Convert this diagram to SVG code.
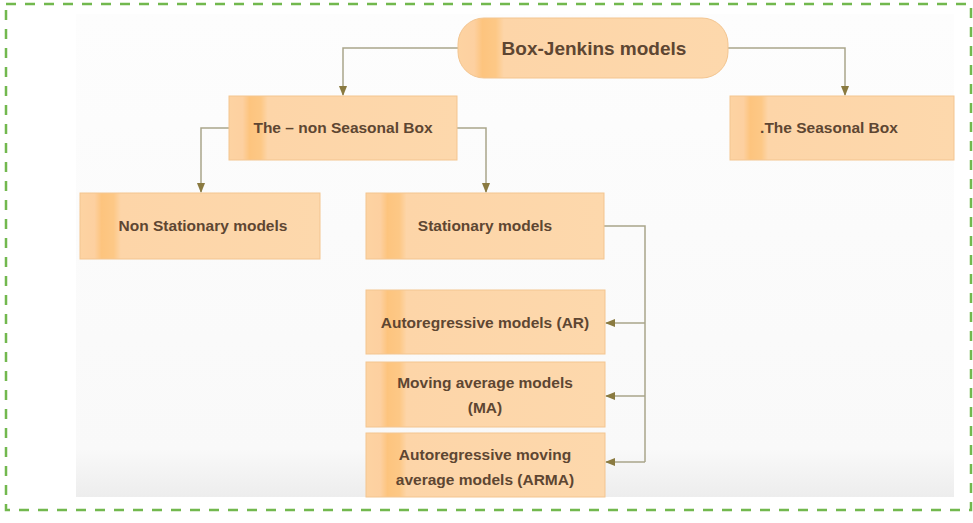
<svg xmlns="http://www.w3.org/2000/svg" width="973" height="523" viewBox="0 0 973 523">
<defs>
<linearGradient id="bg" x1="0" y1="0" x2="0" y2="1">
<stop offset="0" stop-color="#fdfdfd"/>
<stop offset="0.9" stop-color="#f9f9f9"/>
<stop offset="1" stop-color="#ededed"/>
</linearGradient>
<linearGradient id="box" x1="0" y1="0" x2="1" y2="0">
<stop offset="0" stop-color="#fdd3a2"/>
<stop offset="0.06" stop-color="#fdd0a0"/>
<stop offset="0.09" stop-color="#fdc47e"/>
<stop offset="0.14" stop-color="#fdc886"/>
<stop offset="0.17" stop-color="#fdd5a8"/>
<stop offset="1" stop-color="#fdd8ac"/>
</linearGradient>
<marker id="ah" viewBox="0 0 10 10" refX="9" refY="5" markerWidth="7" markerHeight="7" orient="auto">
<path d="M0,1 L10,5 L0,9 z" fill="#8a7a40"/>
</marker>
<style>
.n{fill:url(#box);stroke:#f3c590;stroke-width:1}
.t{font-family:"Liberation Sans",Arial,sans-serif;font-weight:bold;font-size:15.5px;fill:#5e4632;text-anchor:middle}
.c{fill:none;stroke:#a9a58a;stroke-width:1.5}
</style>
</defs>
<rect x="0" y="0" width="973" height="523" fill="#ffffff"/>
<rect x="76" y="14" width="878" height="483" fill="url(#bg)"/>
<rect x="6" y="4" width="965" height="506" fill="none" stroke="#72b84e" stroke-width="2.5" stroke-dasharray="10,9"/>
<g id="connectors">
<path class="c" d="M458,48 H343 V95" marker-end="url(#ah)"/>
<path class="c" d="M728,48 H845 V95" marker-end="url(#ah)"/>
<path class="c" d="M229,128 H201 V192" marker-end="url(#ah)"/>
<path class="c" d="M457,128 H486 V192" marker-end="url(#ah)"/>
<path class="c" d="M604,226 H645 V462"/>
<path class="c" d="M645,323 H606" marker-end="url(#ah)"/>
<path class="c" d="M645,396 H606" marker-end="url(#ah)"/>
<path class="c" d="M645,462 H606" marker-end="url(#ah)"/>
</g>
<g id="box-jenkins">
<rect class="n" x="458" y="18" width="270" height="60" rx="26"/>
<text class="t" x="594" y="55" style="font-size:19px">Box-Jenkins models</text>
</g>
<g id="non-seasonal">
<rect class="n" x="229" y="96" width="228" height="64"/>
<text class="t" x="343" y="133">The – non Seasonal Box</text>
</g>
<g id="seasonal">
<rect class="n" x="730" y="96" width="224" height="64"/>
<text class="t" x="829" y="133">.The Seasonal Box</text>
</g>
<g id="non-stationary">
<rect class="n" x="80" y="193" width="240" height="66"/>
<text class="t" x="203" y="231">Non Stationary models</text>
</g>
<g id="stationary">
<rect class="n" x="366" y="193" width="238" height="66"/>
<text class="t" x="485" y="231">Stationary models</text>
</g>
<g id="ar">
<rect class="n" x="366" y="290" width="239" height="64"/>
<text class="t" x="485" y="328">Autoregressive models (AR)</text>
</g>
<g id="ma">
<rect class="n" x="366" y="362" width="239" height="65"/>
<text class="t" x="485" y="388">Moving average models</text>
<text class="t" x="485" y="413">(MA)</text>
</g>
<g id="arma">
<rect class="n" x="366" y="433" width="239" height="64"/>
<text class="t" x="485" y="460">Autoregressive moving</text>
<text class="t" x="485" y="485">average models (ARMA)</text>
</g>
</svg>
